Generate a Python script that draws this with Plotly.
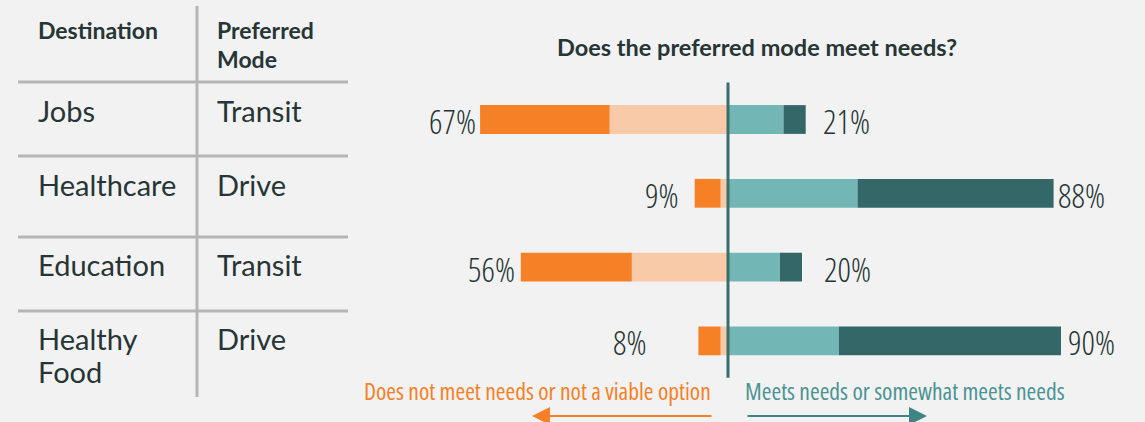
import plotly.graph_objects as go

# table contents
destinations = ["Jobs", "Healthcare", "Education", "Healthy<br>Food"]
modes = ["Transit", "Drive", "Transit", "Drive"]

# bar segments (percent)
not_meet = [35, 7, 30, 6]        # dark orange, outer
not_viable = [32, 2, 26, 2]      # light orange, inner
somewhat_meets = [15, 35, 14, 30]  # light teal, inner
meets = [6, 53, 6, 60]           # dark teal, outer

W, H = 1145, 422
BG = "#f2f2f2"
TXT = "#263535"
GRID = "#b5b5b5"
DARK_OR = "#f58025"
LIGHT_OR = "#f9caa7"
LIGHT_TE = "#72b7b6"
DARK_TE = "#346868"
AXIS_LINE = "#3a6e6e"
NARROW = "Open Sans, DejaVu Sans Condensed, sans-serif"
LATO = "Lato, sans-serif"


def px(x):
    return x / W


def py(y):
    return 1 - y / H


def squeeze(s):
    # condensed width of the variable Open Sans face
    return f'<span style="font-stretch:75%">{s}</span>'


rows = list(range(len(destinations)))
neg_totals = [a + b for a, b in zip(not_meet, not_viable)]
pos_totals = [a + b for a, b in zip(somewhat_meets, meets)]

fig = go.Figure()
bar_w = 0.39
fig.add_trace(go.Bar(y=rows, x=[-v for v in not_viable], orientation="h",
                     marker=dict(color=LIGHT_OR, line=dict(width=0)), width=bar_w))
fig.add_trace(go.Bar(y=rows, x=[-v for v in not_meet], orientation="h",
                     marker=dict(color=DARK_OR, line=dict(width=0)), width=bar_w))
fig.add_trace(go.Bar(y=rows, x=somewhat_meets, orientation="h",
                     marker=dict(color=LIGHT_TE, line=dict(width=0)), width=bar_w))
fig.add_trace(go.Bar(y=rows, x=meets, orientation="h",
                     marker=dict(color=DARK_TE, line=dict(width=0)), width=bar_w))

# center line
fig.add_shape(type="line", xref="x", yref="y", x0=0, x1=0, y0=-0.5, y1=3.5,
              line=dict(color=AXIS_LINE, width=3))

# value labels (pads tweak spacing to match the source layout)
left_pad = [2, 15, 4, 50]
right_pad = [15, 2, 20, 5]
for i in rows:
    fig.add_annotation(x=-neg_totals[i], y=i, xref="x", yref="y", text=squeeze(f"{neg_totals[i]}%"),
                       showarrow=False, xanchor="right", xshift=-left_pad[i], yshift=-2,
                       font=dict(family=NARROW, size=33, color=TXT, weight=300))
    fig.add_annotation(x=pos_totals[i], y=i, xref="x", yref="y", text=squeeze(f"{pos_totals[i]}%"),
                       showarrow=False, xanchor="left", xshift=right_pad[i], yshift=-2,
                       font=dict(family=NARROW, size=33, color=TXT, weight=300))

# table grid
fig.add_shape(type="line", xref="paper", yref="paper", x0=px(197), x1=px(197),
              y0=py(6), y1=py(397), line=dict(color=GRID, width=3))
for yy in [82, 156, 237, 311]:
    fig.add_shape(type="line", xref="paper", yref="paper", x0=px(18), x1=px(348),
                  y0=py(yy), y1=py(yy), line=dict(color=GRID, width=3))

# table header
fig.add_annotation(x=px(36), y=py(14), xref="paper", yref="paper", text="<b>Destination</b>",
                   showarrow=False, xanchor="left", yanchor="top", align="left",
                   font=dict(family=LATO, size=23, color=TXT))
for k, line in enumerate(["Preferred", "Mode"]):
    fig.add_annotation(x=px(215), y=py(30 + 29 * k), xref="paper", yref="paper",
                       text=f"<b>{line}</b>", showarrow=False, xanchor="left", yanchor="middle",
                       font=dict(family=LATO, size=23, color=TXT))

# table rows (one annotation per text line to keep the tight line spacing)
row_centers = [110, 184, 264, 338]
line_gap = 33
for i in rows:
    for k, line in enumerate(destinations[i].split("<br>")):
        fig.add_annotation(x=px(36), y=py(row_centers[i] + line_gap * k), xref="paper",
                           yref="paper", text=line, showarrow=False,
                           xanchor="left", yanchor="middle",
                           font=dict(family=LATO, size=29, color=TXT))
    fig.add_annotation(x=px(215), y=py(row_centers[i]), xref="paper", yref="paper", text=modes[i],
                       showarrow=False, xanchor="left", yanchor="middle",
                       font=dict(family=LATO, size=29, color=TXT))

# chart title
fig.add_annotation(x=px(757), y=py(47), xref="paper", yref="paper",
                   text="<b>Does the preferred mode meet needs?</b>", showarrow=False,
                   yanchor="middle", font=dict(family=LATO, size=23.5, color=TXT))

# direction legend
fig.add_annotation(x=px(713), y=py(391), xref="paper", yref="paper",
                   text=squeeze("Does not meet needs or not a viable option"), showarrow=False,
                   xanchor="right", yanchor="middle",
                   font=dict(family=NARROW, size=23.5, color=DARK_OR))
fig.add_annotation(x=px(743), y=py(391), xref="paper", yref="paper",
                   text=squeeze("Meets needs or somewhat meets needs"), showarrow=False,
                   xanchor="left", yanchor="middle",
                   font=dict(family=NARROW, size=23.5, color="#4a9393"))
fig.add_annotation(x=px(532), y=py(416), xref="paper", yref="paper", ax=181, ay=0,
                   axref="pixel", ayref="pixel", text="", showarrow=True,
                   arrowhead=2, arrowsize=1.8, arrowwidth=2, arrowcolor=DARK_OR)
fig.add_annotation(x=px(927), y=py(416), xref="paper", yref="paper", ax=-181, ay=0,
                   axref="pixel", ayref="pixel", text="", showarrow=True,
                   arrowhead=2, arrowsize=1.8, arrowwidth=2, arrowcolor="#3f8585")

# axis ranges map data to pixel positions of the source
scale = 3.7
fig.update_xaxes(range=[-728 / scale, (W - 728) / scale], visible=False, fixedrange=True)
fig.update_yaxes(range=[(H - 119.5) / 73.8, -119.5 / 73.8], visible=False, fixedrange=True)
fig.update_layout(
    width=W, height=H, barmode="relative", showlegend=False,
    margin=dict(l=0, r=0, t=0, b=0),
    plot_bgcolor=BG, paper_bgcolor=BG,
)

fig.write_html("out.html", config={"displayModeBar": False},
               post_script="document.body.style.margin='0';")
